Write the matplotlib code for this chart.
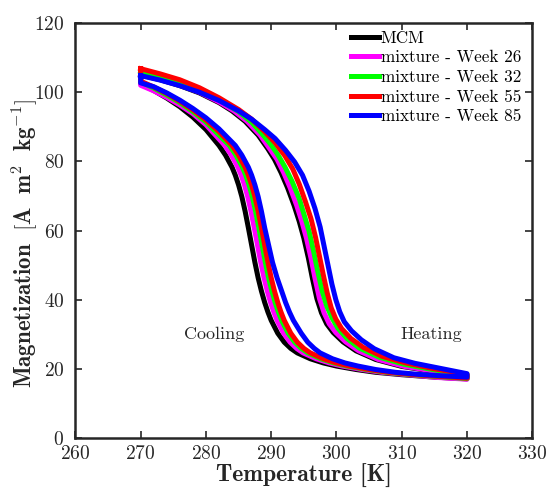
import matplotlib

matplotlib.use("Agg")
import matplotlib.pyplot as plt

plt.rcParams["font.family"] = "cmr10"
plt.rcParams["mathtext.fontset"] = "cm"
plt.rcParams["axes.formatter.use_mathtext"] = True

# heating branch (270 K -> 320 K)
mcm_heat_T = [270, 273, 276, 279, 282, 284, 286, 288, 289.5, 290.5, 291.5, 292.5, 293.5, 294.3, 295, 295.7, 296.3, 297, 297.7, 298.5, 299.5, 301, 303, 306, 310, 315, 320]
mcm_heat_M = [105.0, 103.6, 101.9, 99.8, 97.0, 94.6, 91.6, 87.6, 83.6, 80.6, 76.8, 72.4, 67.3, 62.6, 57.8, 52.0, 46.3, 40.3, 36.2, 33.0, 30.5, 27.8, 25.2, 22.7, 20.7, 19.2, 18.0]
w26_heat_T = [270, 273, 276, 279, 282, 284.3, 286.3, 288.3, 289.8, 290.9, 291.9, 292.9, 293.9, 294.7, 295.4, 296.1, 296.7, 297.4, 298.1, 298.9, 299.9, 301.4, 303.4, 306.4, 310.4, 315.4, 320]
w26_heat_M = [105.2, 103.8, 102.1, 100.0, 97.2, 94.6, 91.6, 87.6, 83.6, 80.6, 76.8, 72.4, 67.3, 62.6, 57.8, 52.0, 46.3, 40.3, 36.2, 33.0, 30.5, 27.8, 25.2, 22.7, 20.7, 19.2, 18.1]
w32_heat_T = [270, 273, 276, 279, 282, 285, 287, 288.5, 289.9, 291, 292.1, 293.2, 294.3, 295.1, 295.8, 296.5, 297.1, 297.8, 298.5, 299.3, 300.2, 301.6, 303.5, 306.5, 310.4, 315.3, 320]
w32_heat_M = [106.0, 104.6, 102.9, 100.7, 97.8, 94.4, 91.3, 88.2, 85.0, 82.0, 78.4, 74.2, 69.2, 64.2, 59.8, 54.0, 48.5, 42.6, 38.2, 34.8, 31.8, 28.8, 26.0, 23.4, 21.3, 19.6, 18.3]
w55_heat_T = [270, 273, 276, 279, 282, 285, 287, 289, 290.6, 292.1, 293.3, 294.3, 295.2, 296.1, 296.8, 297.4, 298, 298.6, 299.2, 299.9, 300.8, 302.2, 304.1, 307, 310.6, 315, 320]
w55_heat_M = [106.8, 105.3, 103.6, 101.3, 98.4, 95.0, 92.2, 88.6, 85.4, 81.6, 77.8, 73.4, 68.6, 63.4, 58.0, 52.5, 47.0, 41.8, 37.6, 34.4, 31.6, 28.8, 26.2, 23.6, 21.7, 20.0, 18.4]
w85_heat_T = [270, 273, 276, 279, 282, 285, 287, 289, 290.6, 292.2, 293.6, 294.8, 295.8, 296.7, 297.5, 298.1, 298.7, 299.3, 299.9, 300.5, 301.2, 302.3, 303.8, 305.8, 308.8, 312, 316, 320]
w85_heat_M = [104.8, 103.5, 101.9, 100.0, 97.6, 94.6, 92.2, 89.2, 86.6, 83.2, 79.8, 76.0, 71.4, 66.4, 61.0, 55.5, 50.0, 44.5, 40.0, 36.5, 33.6, 31.0, 28.4, 25.8, 23.2, 21.6, 20.1, 18.6]

# cooling branch (listed 270 K -> 320 K)
mcm_cool_T = [270, 272, 274, 276, 278, 280, 282, 283, 284, 284.5, 285, 285.5, 286, 286.5, 287, 287.5, 288, 288.5, 289, 289.5, 290, 291, 292, 293, 294, 296, 298, 300, 303, 306, 310, 315, 320]
mcm_cool_M = [102.5, 100.5, 98.3, 95.8, 92.8, 89.2, 84.6, 81.8, 78.3, 76.0, 73.2, 69.8, 65.6, 60.8, 55.8, 50.8, 46.3, 42.5, 39.2, 36.4, 34.0, 30.3, 27.7, 25.9, 24.6, 22.9, 21.7, 20.8, 19.8, 19.0, 18.3, 17.6, 17.1]
w26_cool_T = [270, 272, 274, 276, 278, 280, 282.9, 283.9, 284.9, 285.4, 285.9, 286.4, 286.9, 287.4, 287.9, 288.4, 288.9, 289.4, 289.9, 290.4, 290.9, 291.9, 292.9, 293.9, 294.9, 296.9, 298.9, 300.9, 303.9, 306.9, 310.9, 315.5, 320]
w26_cool_M = [102.0, 100.4, 98.5, 96.3, 93.8, 90.6, 84.6, 81.8, 78.3, 76.0, 73.2, 69.8, 65.6, 60.8, 55.8, 50.8, 46.3, 42.5, 39.2, 36.4, 34.0, 30.3, 27.7, 25.9, 24.6, 22.9, 21.7, 20.8, 19.8, 19.0, 18.3, 17.5, 17.0]
w32_cool_T = [270, 272, 274, 276, 278, 280, 282, 283.6, 284.6, 285.6, 286.1, 286.6, 287.1, 287.6, 288.1, 288.6, 289.1, 289.6, 290.1, 290.6, 291.1, 291.6, 292.6, 293.6, 294.6, 295.6, 297.6, 299.6, 301.6, 304.6, 307.6, 311.6, 316, 320]
w32_cool_M = [103.0, 101.2, 99.2, 97.0, 94.4, 91.4, 87.6, 84.6, 81.8, 78.3, 76.0, 73.2, 69.8, 65.6, 60.8, 55.8, 50.8, 46.3, 42.5, 39.2, 36.4, 34.0, 30.3, 27.7, 25.9, 24.6, 22.9, 21.7, 20.8, 19.8, 19.0, 18.3, 17.7, 17.2]
w55_cool_T = [270, 272, 274, 276, 278, 280, 282, 284, 285, 286, 286.5, 287, 287.5, 288, 288.5, 289, 289.5, 290, 290.5, 291, 291.5, 292, 293, 294, 295, 296, 298, 300, 302, 305, 308, 312, 316, 320]
w55_cool_M = [103.2, 101.5, 99.6, 97.4, 94.9, 92.0, 88.6, 84.6, 81.8, 78.3, 76.0, 73.2, 69.8, 65.6, 60.8, 55.8, 50.8, 46.3, 42.5, 39.2, 36.4, 34.0, 30.3, 27.7, 25.9, 24.6, 22.9, 21.7, 20.8, 19.8, 19.0, 18.3, 17.8, 17.3]
w85_cool_T = [270, 272, 274, 276, 278, 280, 282, 284.5, 285.5, 286.5, 287, 287.5, 288, 288.5, 289, 289.6, 290.2, 290.9, 291.6, 292.2, 292.8, 293.4, 294.6, 295.6, 296.6, 297.5, 299.4, 301.3, 303.3, 306, 309, 312.5, 316, 320]
w85_cool_M = [102.7, 101.6, 99.8, 97.7, 95.3, 92.6, 89.4, 84.6, 81.8, 78.3, 76.0, 73.2, 69.8, 65.6, 60.8, 55.8, 50.8, 46.3, 42.5, 39.2, 36.4, 34.0, 30.3, 27.7, 25.9, 24.6, 22.9, 21.7, 20.8, 19.8, 19.0, 18.4, 18.0, 17.6]

labels = ["MCM", "mixture - Week 26", "mixture - Week 32", "mixture - Week 55", "mixture - Week 85"]
colors = ["#000000", "#ff00ff", "#00ff00", "#ff0000", "#0000ff"]

series = [
    (mcm_heat_T, mcm_heat_M, mcm_cool_T, mcm_cool_M),
    (w26_heat_T, w26_heat_M, w26_cool_T, w26_cool_M),
    (w32_heat_T, w32_heat_M, w32_cool_T, w32_cool_M),
    (w55_heat_T, w55_heat_M, w55_cool_T, w55_cool_M),
    (w85_heat_T, w85_heat_M, w85_cool_T, w85_cool_M),
]

fig = plt.figure(figsize=(5.48, 4.91), dpi=100)
ax = fig.add_axes([0.1376, 0.108, 0.8337, 0.845])

for (hT, hM, cT, cM), lab, col in zip(series, labels, colors):
    T = list(hT) + list(cT)[::-1] + [hT[0]]
    M = list(hM) + list(cM)[::-1] + [hM[0]]
    ax.plot(T, M, color=col, lw=3.6, label=lab, solid_joinstyle="round")

ax.set_xlim(260, 330)
ax.set_ylim(0, 120)
ax.set_xticks(range(260, 331, 10))
ax.set_yticks(range(0, 121, 20))
ax.tick_params(direction="in", top=True, right=True, length=5, width=1.2,
               labelsize=14, colors="#262626")
ax.tick_params(axis="y", pad=8)
ax.tick_params(axis="x", pad=5)
for sp in ax.spines.values():
    sp.set_linewidth(1.8)
    sp.set_color("#262626")

ax.set_xlabel("Temperature [K]", fontfamily="cmb10", fontsize=17, color="#262626")
ax.set_ylabel(r"$\mathbf{Magnetization\ \ [A\ \ m^2\ \ kg^{-1}]}$", fontsize=16.5,
              color="#262626")
ax.xaxis.set_label_coords(0.5, -0.062)
ax.yaxis.set_label_coords(-0.078, 0.47)

ax.text(281.2, 30, "Cooling", fontsize=13, ha="center", va="center", color="#262626")
ax.text(314.6, 30, "Heating", fontsize=13, ha="center", va="center", color="#262626")

ax.legend(loc="upper left", bbox_to_anchor=(0.603, 0.982), frameon=False,
          fontsize=12.3, handlelength=1.65, handletextpad=0.1, labelspacing=0.25,
          borderaxespad=0, borderpad=0)

fig.savefig("out.png", dpi=100)
